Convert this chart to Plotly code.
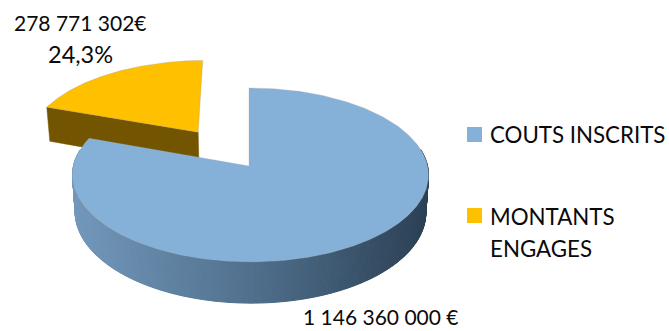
import numpy as np
import plotly.graph_objects as go

# Budget split shown as an extruded, exploded pie
categories = ["COUTS INSCRITS", "MONTANTS ENGAGES"]
amounts = [1146360000, 278771302]
amount_labels = ["1 146 360 000 €", "278 771 302€"]
share_label = "24,3%"

BLUE, GOLD, GOLD_WALL = "#85B1D9", "#FFC000", "#735400"
WALL_STOPS = [(72, (115, 152, 187)), (250, (80, 112, 141)), (429, (43, 64, 84))]
FONT = "Lato"
TEXT = "#0a0a0a"

# Projection of the pie plane onto the page
APEX_X, APEX_Y = 249.0, 166.0
RADIUS_X, RADIUS_Y, TILT, TURN = 177.0, 86.0, 0.103, -0.0085
DEPTH, FLOOR_SHRINK = 37.0, 0.985
EXPLODE, EXPLODE_WIDEN = 0.5, 1.04


def project(u, v, floor=False):
    w = 1 + TILT * v + TURN * u
    x, y = RADIUS_X * u / w, -RADIUS_Y * v / w
    if floor:
        return APEX_X + x * FLOOR_SHRINK, APEX_Y + y + DEPTH / w
    return APEX_X + x, APEX_Y + y


def sector(start, end, off=(0, 0), n=160):
    t = np.linspace(start, end, n)
    return off[0] + np.sin(t), off[1] + np.cos(t)


def wall_colour(x):
    xs = [s[0] for s in WALL_STOPS]
    rgb = [np.interp(x, xs, [s[1][i] for s in WALL_STOPS]) for i in range(3)]
    return "rgb(%d,%d,%d)" % tuple(int(round(c)) for c in rgb)


def face(fig, xs, ys, colour, edge=None, width=1.0):
    fig.add_trace(go.Scatter(
        x=xs, y=ys, mode="lines", fill="toself", fillcolor=colour,
        line=dict(color=edge or colour, width=width),
        hoverinfo="skip", showlegend=False,
    ))


total = sum(amounts)
sweep = [2 * np.pi * a / total for a in amounts]
fig = go.Figure()

# Detached slice: it ends at twelve o'clock, and moves out along its bisector
mid = 2 * np.pi - sweep[1] / 2
off = (EXPLODE * EXPLODE_WIDEN * np.sin(mid), EXPLODE * np.cos(mid))
su, sv = sector(2 * np.pi - sweep[1], 2 * np.pi, off)

rim_top = project(off[0] + np.sin(sweep[0]), off[1] + np.cos(sweep[0]))
rim_low = project(off[0] + np.sin(sweep[0]), off[1] + np.cos(sweep[0]), True)
tip_top = project(*off)
tip_low = project(*off, True)
face(fig, [rim_top[0], tip_top[0], tip_low[0], rim_low[0], rim_top[0]],
     [rim_top[1], tip_top[1], tip_low[1], rim_low[1], rim_top[1]], GOLD_WALL, width=0.5)

tx, ty = project(np.r_[off[0], su, off[0]], np.r_[off[1], sv, off[1]])
face(fig, tx, ty, GOLD, "rgba(150,150,150,0.5)", 0.6)

# Outer wall of the large slice, shaded left to right in thin strips
bu, bv = sector(0, sweep[0], n=420)
tx, ty = project(bu, bv)
lx, ly = project(bu, bv, True)
for i in range(len(bu) - 1):
    if bv[i] > 0.2 or bv[i + 1] > 0.2:
        continue
    face(fig, [tx[i], tx[i + 1], lx[i + 1], lx[i], tx[i]],
         [ty[i], ty[i + 1], ly[i + 1], ly[i], ty[i]],
         wall_colour((tx[i] + tx[i + 1]) / 2))

# Top of the large slice
px, py = project(np.r_[0, bu, 0], np.r_[0, bv, 0])
face(fig, px, py, BLUE, "rgba(170,170,170,0.5)", 0.6)

# Legend keys
for colour, y in [(BLUE, 134.5), (GOLD, 215.5)]:
    fig.add_trace(go.Scatter(
        x=[474.5], y=[y], mode="markers",
        marker=dict(symbol="square", size=15, color=colour),
        hoverinfo="skip", showlegend=False,
    ))


def label(text, x, y, size, anchor="center"):
    fig.add_annotation(x=x, y=y, text=text, showarrow=False, xanchor=anchor, yanchor="middle",
                       font=dict(family=FONT, size=size, color=TEXT))


label(amount_labels[1], 80.5, 22, 21)
label(share_label, 80.5, 54, 23.5)
label(amount_labels[0], 380.5, 316.5, 21)
label(categories[0], 487.5, 134, 22.3, "left")
first, second = categories[1].split(" ")
label(first, 487.5, 216, 22.3, "left")
label(second, 487.5, 248, 22.3, "left")

fig.update_layout(
    width=669, height=331, margin=dict(l=0, r=0, t=0, b=0),
    paper_bgcolor="white", plot_bgcolor="white", showlegend=False,
    xaxis=dict(range=[0, 669], visible=False, fixedrange=True),
    yaxis=dict(range=[331, 0], visible=False, fixedrange=True),
)
fig.write_html("out.html", config=dict(displayModeBar=False))
